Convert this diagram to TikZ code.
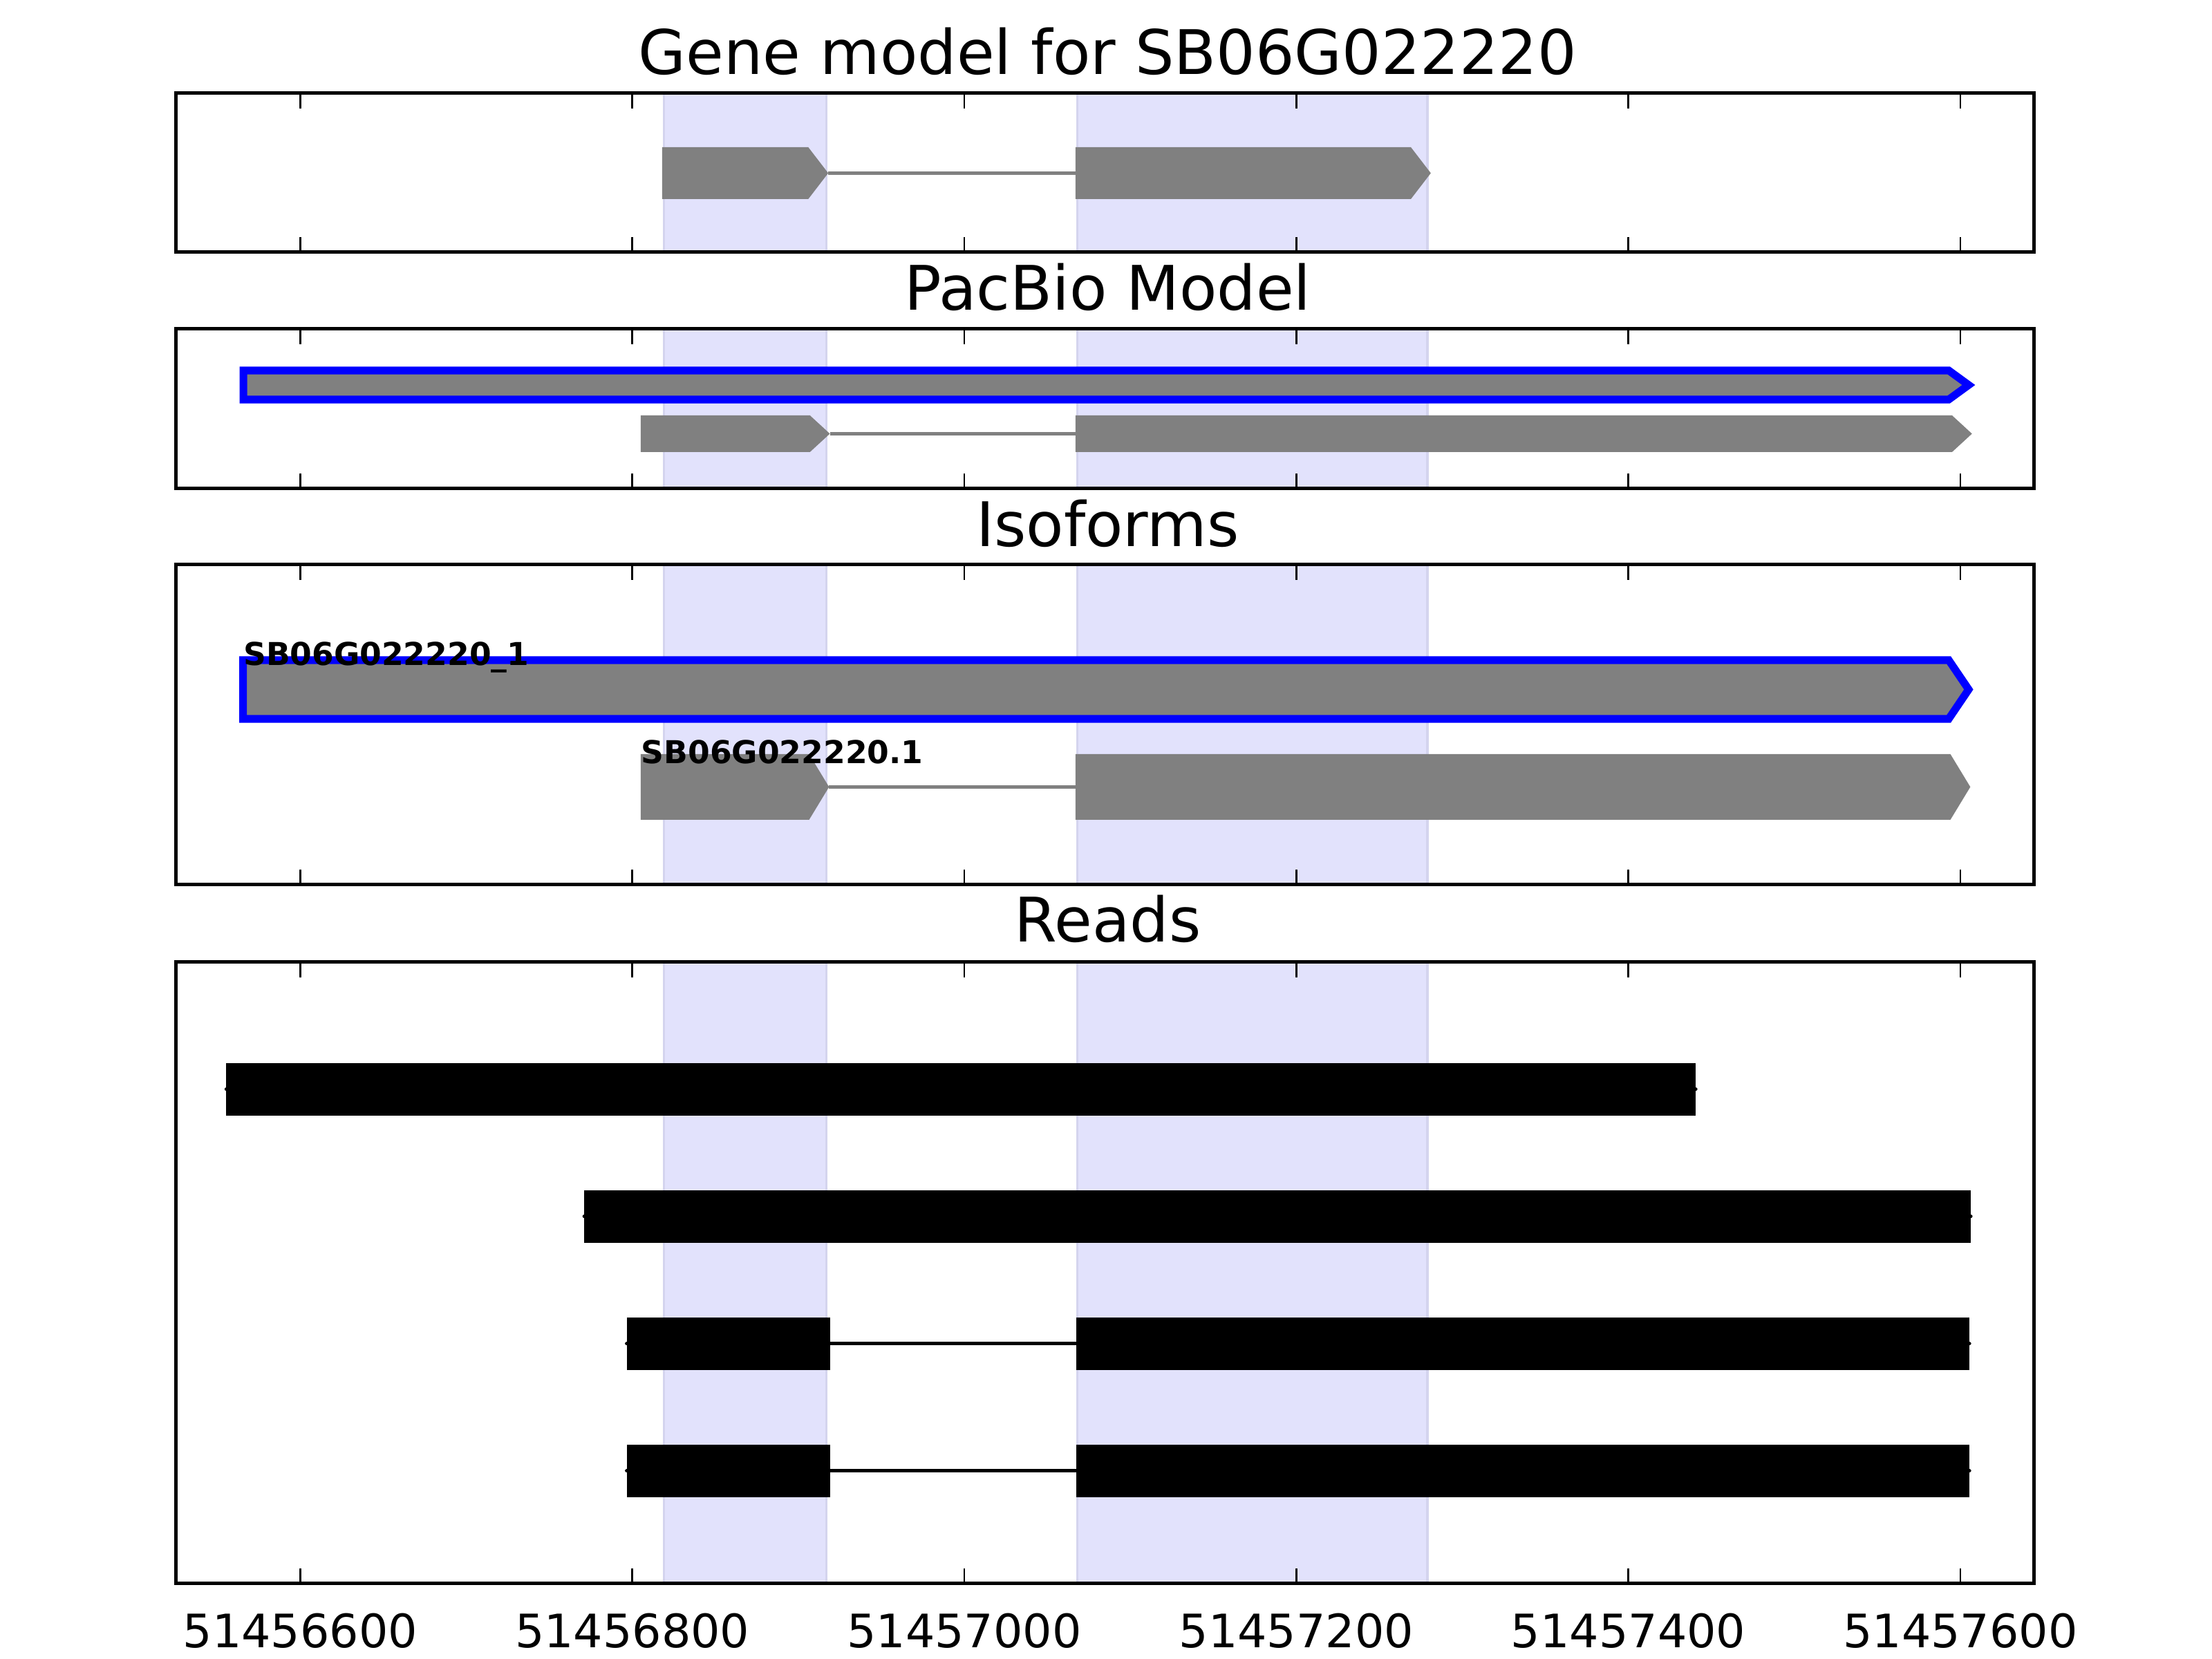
\documentclass[tikz,border=0pt]{standalone}
\usepackage{fontspec}
\setmainfont{DejaVu Sans}
\usepackage{tikz}

\definecolor{bandfill}{RGB}{226,226,252}
\definecolor{bandedge}{RGB}{212,212,238}

% exon with pointed end: [style]{start}{end}{top}{bottom}
\newcommand{\exonarrow}[5][]{%
  \draw[#1] (#2,#4) -- ({#3-12},#4) -- (#3,{(#4+#5)/2}) -- ({#3-12},#5) -- (#2,#5) -- cycle;}

\begin{document}
\begin{tikzpicture}[x=0.43227bp, y=-0.18bp,
    frame/.style={line width=0.9bp},
    tickmark/.style={line width=0.5bp},
    band/.style={fill=bandfill, draw=bandedge, line width=0.6bp},
    exon/.style={fill=gray, draw=none},
    iso/.style={fill=gray, draw=blue, line width=2bp, line join=miter},
    intron/.style={gray, line width=0.9bp},
    readline/.style={black, line width=0.9bp, line cap=round},
    readbox/.style={fill=black, draw=none},
    title/.style={inner sep=0pt, anchor=base, font=\fontsize{16bp}{19bp}\selectfont},
    ticklabel/.style={inner sep=0pt, anchor=base, font=\fontsize{12bp}{14bp}\selectfont},
    isolabel/.style={inner sep=0pt, anchor=base west, font=\fontsize{8.2bp}{10bp}\selectfont\bfseries}]

    %% Background
    \draw[draw=none, fill=white] (19.1,0) rectangle (1351.6,2400);

    % Highlighted exons
    \foreach \top/\bot in {135/365, 476/707, 817/1280, 1392/2291} {
        \draw[band] (419,\top) rectangle (517,\bot);
        \draw[band] (668,\top) rectangle (879,\bot);
    }

    % Gene model
    \draw[intron] (518,250.5) -- (667,250.5);
    \exonarrow[exon]{418}{518}{213}{288}
    \exonarrow[exon]{667}{881}{213}{288}

    % PacBio model
    \exonarrow[iso]{165.7}{1205}{536}{578}
    \draw[intron] (519,627.7) -- (667,627.7);
    \exonarrow[exon]{405}{519}{601}{654}
    \exonarrow[exon]{667}{1207}{601}{654}

    % Isoforms
    \exonarrow[iso]{165.5}{1205}{955}{1040}
    \draw[intron] (518.5,1138.5) -- (667,1138.5);
    \exonarrow[exon]{405}{518.5}{1091}{1186}
    \exonarrow[exon]{667}{1206}{1091}{1186}
    \node[isolabel] (lab-pb) at (165.3,963) {SB06G022220\_1};
    \node[isolabel] (lab-gm) at (405,1105) {SB06G022220.1};

    % Reads
    \draw[readline] (155.4,1576) -- (1040.6,1576);
    \draw[readbox] (155.4,1538) rectangle (1040.6,1614);
    \draw[readline] (371,1760) -- (1206.3,1760);
    \draw[readbox] (371,1722) rectangle (1206.3,1798);
    \foreach \mid in {1944, 2128} {
        \draw[readline] (396.6,\mid) -- (1205.5,\mid);
        \draw[readbox] (396.6,\mid-38) rectangle (519,\mid+38);
        \draw[readbox] (667.4,\mid-38) rectangle (1205.5,\mid+38);
    }

    % Titles
    \node[title] (t-gene) at (686.4,108) {Gene model for SB06G022220};
    \node[title] (t-pacbio) at (686.4,449) {PacBio Model};
    \node[title] (t-iso) at (686.4,791) {Isoforms};
    \node[title] (t-reads) at (686.4,1363) {Reads};

    % Frames and ticks
    \foreach \top/\bot in {135/365, 476/707, 817/1280, 1392/2291} {
        \draw[frame] (125.1,\top) rectangle (1244.2,\bot);
        \foreach \t in {200,400,...,1200} {
            \draw[tickmark] (\t,\top) -- ++(0,22);
            \draw[tickmark] (\t,\bot) -- ++(0,-22);
        }
    }

    % Axis labels
    \foreach \t/\lab in {200/51456600, 400/51456800, 600/51457000,
                         800/51457200, 1000/51457400, 1200/51457600} {
        \node[ticklabel] (xt-\t) at (\t,2384) {\lab};
    }

\end{tikzpicture}
\end{document}
